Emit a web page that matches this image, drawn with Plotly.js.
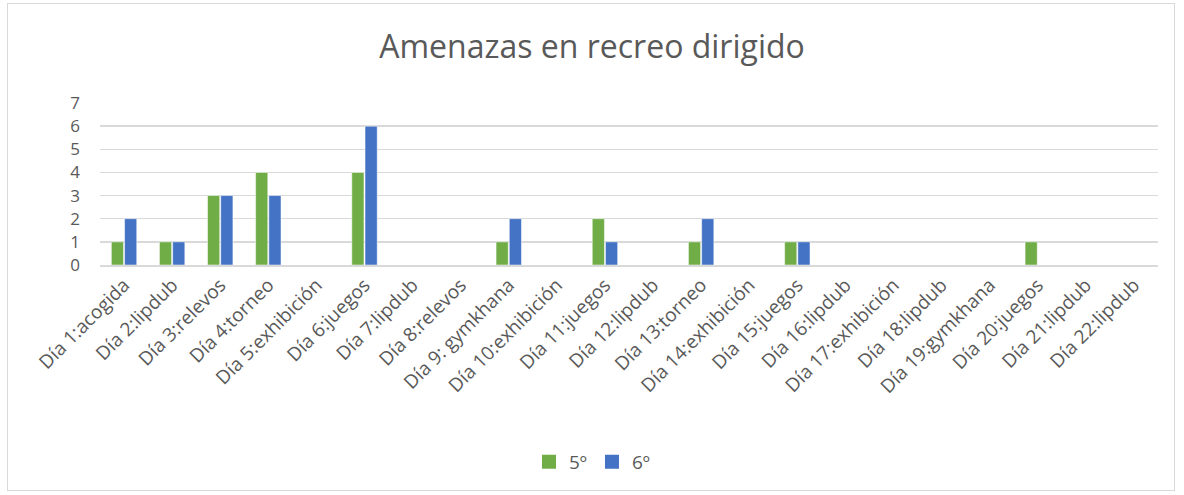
<!DOCTYPE html>
<html>
<head>
<meta charset="utf-8">
<script src="https://cdn.plot.ly/plotly-3.0.1.min.js"></script>
<style>
html,body{margin:0;padding:0;background:#fff;}
#wrap{position:relative;width:1184px;height:495px;}
#frame{position:absolute;left:7px;top:3px;width:1168px;height:488px;border:1px solid #d9d9d9;box-sizing:border-box;pointer-events:none;z-index:5;}
#chart{position:absolute;left:0;top:0;width:1184px;height:495px;}
</style>
</head>
<body>
<div id="wrap"><div id="chart"></div><div id="frame"></div></div>
<script>
const categories = ["Día 1:acogida","Día 2:lipdub","Día 3:relevos","Día 4:torneo","Día 5:exhibición","Día 6:juegos","Día 7:lipdub","Día 8:relevos","Día 9: gymkhana","Día 10:exhibición","Día 11:juegos","Día 12:lipdub","Día 13:torneo","Día 14:exhibición","Día 15:juegos","Día 16:lipdub","Día 17:exhibición","Día 18:lipdub","Día 19:gymkhana","Día 20:juegos","Día 21:lipdub","Día 22:lipdub"];
const quinto = [1,1,3,4,0,4,0,0,1,0,2,0,1,0,1,0,0,0,0,1,0,0];
const sexto  = [2,1,3,3,0,6,0,0,2,0,1,0,2,0,1,0,0,0,0,0,0,0];
const seriesNames = ["5º","6º"];
const seriesColors = ["#70ad47","#4472c4"];
const yTicks = [0,1,2,3,4,5,6,7];

const fontFam = "'Open Sans', 'Noto Sans', sans-serif";
const traces = [
  {type:"bar", name:seriesNames[0], x:categories, y:quinto, showlegend:false, marker:{color:seriesColors[0], line:{color:"#ffffff", width:0.5}}},
  {type:"bar", name:seriesNames[1], x:categories, y:sexto, showlegend:false, marker:{color:seriesColors[1], line:{color:"#ffffff", width:0.5}}},
  {type:"scatter", mode:"markers", name:seriesNames[0], x:[null], y:[null], marker:{symbol:"square", size:14, color:seriesColors[0]}},
  {type:"scatter", mode:"markers", name:seriesNames[1], x:[null], y:[null], marker:{symbol:"square", size:14, color:seriesColors[1]}}
];
const layout = {
  width:1184, height:495,
  paper_bgcolor:"#fff", plot_bgcolor:"#fff",
  margin:{l:100, r:26, t:103, b:230},
  font:{family:fontFam, color:"#595959"},
  title:{text:"Amenazas en recreo dirigido", font:{size:32, color:"#595959", family:fontFam}, x:0.5, xanchor:"center", y:0.905, yref:"container", yanchor:"middle"},
  barmode:"group", bargap:0.45, bargroupgap:0.08,
  xaxis:{type:"category", tickangle:-45, tickfont:{size:19, color:"#595959"}, showgrid:false, showline:true, linecolor:"#d9d9d9", linewidth:1.5, ticks:"", fixedrange:true},
  yaxis:{range:[0,7], tickvals:yTicks, tickfont:{size:17, color:"#595959"}, showgrid:true, gridcolor:"#d9d9d9", gridwidth:1.5, zeroline:false, showline:false, ticks:"", ticklabelstandoff:19},
  showlegend:true,
  legend:{orientation:"h", x:0.5, xanchor:"center", xref:"container", y:0.067, yref:"container", yanchor:"middle", font:{size:19, color:"#595959"}, itemwidth:30, traceorder:"normal"}
};
Plotly.newPlot("chart", traces, layout, {displayModeBar:false, staticPlot:true});
</script>
</body>
</html>
